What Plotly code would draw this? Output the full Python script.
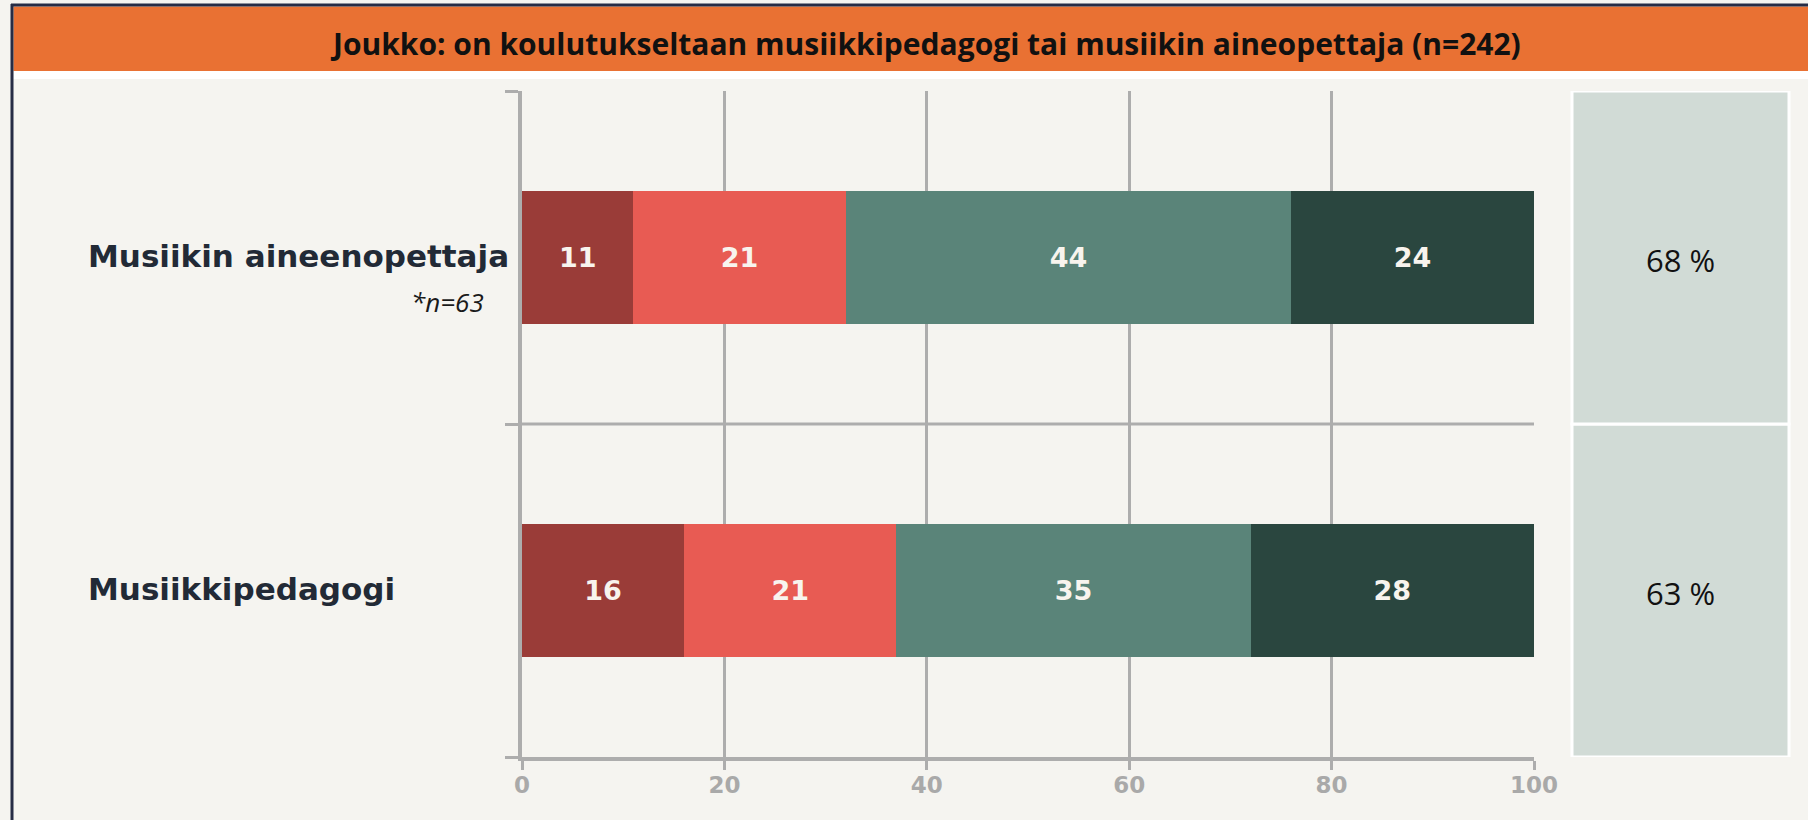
import plotly.graph_objects as go

# ---------------- data ----------------
categories = ["Musiikkipedagogi", "Musiikin aineenopettaja"]  # bottom -> top
series_names = ["1", "2", "3", "4"]
s1_values = [16, 11]
s2_values = [21, 21]
s3_values = [35, 44]
s4_values = [28, 24]
share_values = [63, 68]          # right-hand panel (%)
x_tick_values = [0, 20, 40, 60, 80, 100]
title_text = "Joukko: on koulutukseltaan musiikkipedagogi tai musiikin aineopettaja (n=242)"
note_text = "*n=63"

series_values = [s1_values, s2_values, s3_values, s4_values]
series_colors = ["#9a3c38", "#e85b53", "#5a8479", "#2a463f"]

# ---------------- geometry helpers (pixel -> paper) ----------------
W, H = 1808, 820
L, R, T, B = 522, 274, 91, 63
PW, PH = W - L - R, H - T - B


def px(x):
    return (x - L) / PW


def py(y):
    return (H - B - y) / PH


fig = go.Figure()
for name, vals, col in zip(series_names, series_values, series_colors):
    fig.add_trace(go.Bar(
        y=categories, x=vals, name=name, orientation="h",
        marker=dict(color=col, line=dict(width=0)),
        text=[str(v) for v in vals], textposition="inside",
        insidetextanchor="middle",
        textfont=dict(family="DejaVu Sans", size=27, color="#f8f4ee", weight="bold"),
        hoverinfo="skip", showlegend=False,
    ))

grid_col = "#adadad"
fig.update_layout(
    width=W, height=H,
    margin=dict(l=L, r=R, t=T, b=B, pad=0),
    paper_bgcolor="#f5f4f0", plot_bgcolor="#f5f4f0",
    barmode="stack", bargap=0.6,
    xaxis=dict(
        range=[0, 100], tickvals=x_tick_values, fixedrange=True,
        showgrid=True, gridcolor=grid_col, gridwidth=3,
        showline=True, linecolor=grid_col, linewidth=4,
        ticks="outside", ticklen=9, tickwidth=3, tickcolor=grid_col,
        ticklabelstandoff=-5,
        tickfont=dict(family="DejaVu Sans", size=23, color="#a9a9a9", weight="bold"),
        zeroline=False,
    ),
    yaxis=dict(
        type="category", categoryorder="array", categoryarray=categories,
        range=[-0.5, 1.5], fixedrange=True,
        showgrid=False, showticklabels=False,
        showline=True, linecolor=grid_col, linewidth=4,
        ticks="outside", tickson="boundaries", ticklen=13, tickwidth=3, tickcolor=grid_col,
        zeroline=False,
    ),
    font=dict(family="Roboto"),
)

shapes = []
# outer border
shapes.append(dict(type="line", xref="paper", yref="paper", x0=px(12), x1=px(12), y0=py(4), y1=py(822),
                   line=dict(color="#262c45", width=3)))
shapes.append(dict(type="line", xref="paper", yref="paper", x0=px(11), x1=px(1810), y0=py(5), y1=py(5),
                   line=dict(color="#262c45", width=3)))
# orange title band + white strip
shapes.append(dict(type="rect", xref="paper", yref="paper", x0=px(13.5), x1=px(1810), y0=py(71), y1=py(6.5),
                   fillcolor="#e97133", line=dict(width=0), layer="below"))
shapes.append(dict(type="rect", xref="paper", yref="paper", x0=px(13.5), x1=px(1810), y0=py(79), y1=py(71),
                   fillcolor="#ffffff", line=dict(width=0), layer="below"))
# category separator line
shapes.append(dict(type="line", xref="x", yref="y", x0=0, x1=100, y0=0.5, y1=0.5,
                   line=dict(color=grid_col, width=3), layer="below"))
# right-hand panel boxes (one per category band)
for i, _ in enumerate(categories):
    shapes.append(dict(type="rect", xref="paper", yref="y", x0=px(1572), x1=px(1789),
                       y0=i - 0.5, y1=i + 0.5,
                       fillcolor="#d1dbd6", line=dict(color="#ffffff", width=3)))
fig.update_layout(shapes=shapes)

annotations = []
annotations.append(dict(text="<b>" + title_text + "</b>", xref="paper", yref="paper",
                        x=px(925), y=py(43), xanchor="center", yanchor="middle", showarrow=False,
                        font=dict(family="Open Sans", size=30, color="#111111")))
for cat, share in zip(categories, share_values):
    annotations.append(dict(text="<b>" + cat + "</b>", xref="paper", yref="y", x=px(86), y=cat,
                            xanchor="left", yanchor="middle", yshift=2, showarrow=False,
                            font=dict(family="DejaVu Sans", size=31, color="#222a36")))
    annotations.append(dict(text=f"{share} %", xref="paper", yref="y", x=px(1680), y=cat,
                            xanchor="center", yanchor="middle", yshift=-2, showarrow=False,
                            font=dict(family="Open Sans", size=31, color="#111111")))
annotations.append(dict(text="<i>" + note_text + "</i>", xref="paper", yref="paper",
                        x=px(486), y=py(302), xanchor="right", yanchor="middle", showarrow=False,
                        font=dict(family="Open Sans", size=26, color="#1a1a1a")))
fig.update_layout(annotations=annotations)

fig.write_html("out.html", post_script="document.body.style.margin='0';",
               config={"displayModeBar": False})
